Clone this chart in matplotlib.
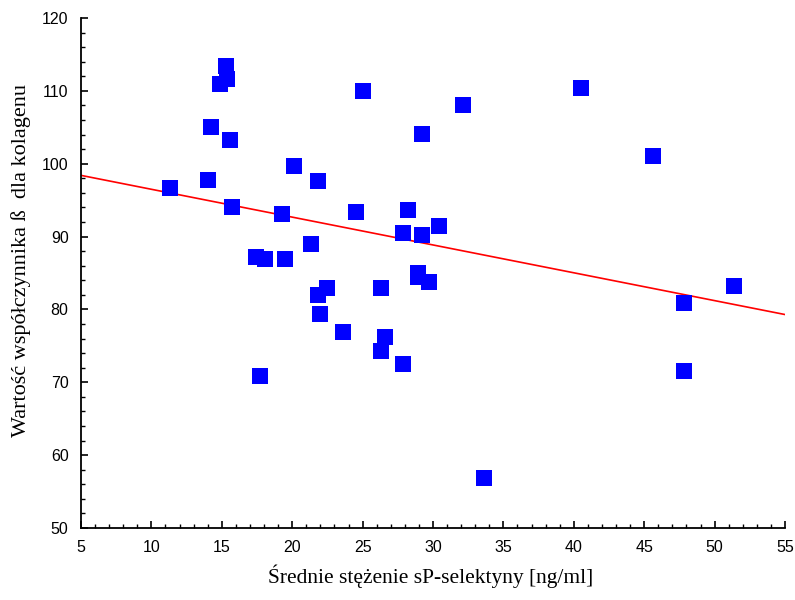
import numpy as np
import matplotlib
matplotlib.use('Agg')
import matplotlib.pyplot as plt
from matplotlib.ticker import MultipleLocator

# dane
sp_selektyna = [11.3, 15.3, 15.4, 14.9, 14.2, 15.6, 20.1, 14.0, 21.8, 15.7,
                19.3, 24.5, 21.3, 17.4, 18.1, 19.5, 22.5, 21.8, 22.0, 23.6,
                17.7, 25.0, 32.1, 29.2, 28.2, 27.9, 29.2, 30.4, 28.9, 28.9,
                29.7, 26.3, 26.6, 26.3, 27.9, 40.5, 45.6, 51.4, 47.8, 47.8,
                33.6]
beta_kolagen = [96.6, 113.4, 111.6, 110.9, 105.1, 103.2, 99.7, 97.8, 97.6, 94.0,
                93.1, 93.4, 89.0, 87.2, 86.9, 86.9, 83.0, 82.0, 79.4, 76.9,
                70.8, 110.0, 108.1, 104.1, 93.6, 90.5, 90.2, 91.4, 85.0, 84.4,
                83.8, 83.0, 76.2, 74.3, 72.5, 110.4, 101.0, 83.2, 80.9, 71.6,
                56.9]

# linia regresji (końce)
fit_x = [5, 55]
fit_y = [98.4, 79.3]

fig = plt.figure(figsize=(7.95, 6.0), dpi=100)
ax = fig.add_axes([0.1019, 0.12, 0.8855, 0.85])

ax.plot(sp_selektyna, beta_kolagen, 's', color='#0000ff', markersize=11.5,
        markeredgewidth=0, zorder=3)
ax.plot(fit_x, fit_y, '-', color='#ff0000', linewidth=1.2, zorder=2)

ax.set_xlim(5, 55)
ax.set_ylim(50, 120)
ax.xaxis.set_major_locator(MultipleLocator(5))
ax.xaxis.set_minor_locator(MultipleLocator(1))
ax.yaxis.set_major_locator(MultipleLocator(10))
ax.yaxis.set_minor_locator(MultipleLocator(2))

for s in ['top', 'right']:
    ax.spines[s].set_visible(False)
for s in ['left', 'bottom']:
    ax.spines[s].set_linewidth(1.3)

ax.tick_params(which='major', direction='in', length=5, width=1.2,
               labelsize=11.5, pad=9)
ax.tick_params(which='minor', direction='in', length=3, width=1.0)
for lab in ax.get_xticklabels() + ax.get_yticklabels():
    lab.set_family('Liberation Sans')

ax.set_xlabel('Średnie stężenie sP-selektyny [ng/ml]', family='Liberation Serif',
              fontsize=15.5)
ax.set_ylabel('Wartość współczynnika ß  dla kolagenu', family='Liberation Serif',
              fontsize=16)
ax.xaxis.set_label_coords(0.496, -0.072)
ax.yaxis.set_label_coords(-0.071, 0.525)

fig.savefig('out.png', dpi=100)
